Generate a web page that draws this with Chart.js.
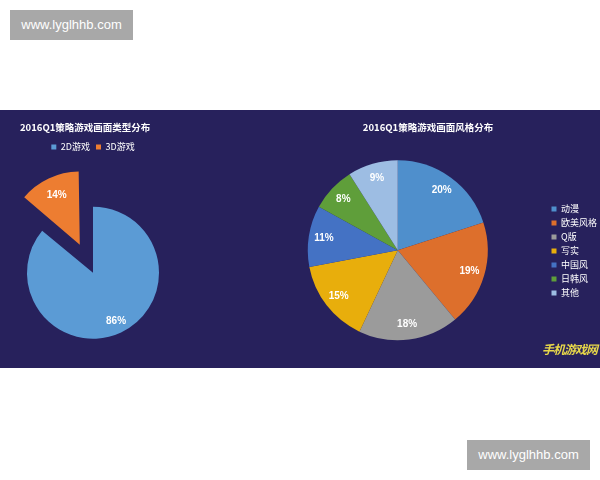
<!DOCTYPE html>
<html>
<head>
<meta charset="utf-8">
<script src="https://cdn.jsdelivr.net/npm/chart.js@4"></script>
<style>
  html, body { margin: 0; padding: 0; width: 600px; height: 480px; overflow: hidden; background: #ffffff; font-family: "Noto Sans CJK SC", "Noto Sans", sans-serif; }
  #band { position: absolute; left: 0; top: 110px; width: 600px; height: 258px; background: #27215c; }
  .wm { position: absolute; width: 123px; height: 30px; background: #a8a8a8; color: #ffffff; font: 13px "Liberation Sans", Arial, sans-serif; line-height: 30px; text-align: center; }
  #wm1 { left: 10px; top: 10px; }
  #wm2 { left: 467px; top: 440px; }
  #c1wrap { position: absolute; left: 0; top: 110px; width: 186px; height: 274px; }
  #c2wrap { position: absolute; left: 240px; top: 110px; width: 370px; height: 258px; }
  #logo { position: absolute; left: 542px; top: 340px; color: #e8d84a; font: italic bold 12px "Noto Sans CJK SC", sans-serif; letter-spacing: -1px; }
</style>
</head>
<body>
<div id="band"></div>
<div class="wm" id="wm1">www.lyglhhb.com</div>
<div class="wm" id="wm2">www.lyglhhb.com</div>
<div id="c1wrap"><canvas id="c1" width="186" height="274"></canvas></div>
<div id="c2wrap"><canvas id="c2" width="370" height="258"></canvas></div>
<div id="logo">手机游戏网</div>
<script>
// ---- data ----
const typeTitle = '2016Q1策略游戏画面类型分布';
const typeLabels = ['2D游戏', '3D游戏'];
const typeValues = [86, 14];
const typeColors = ['#5b9bd5', '#ed7d31'];

const styleTitle = '2016Q1策略游戏画面风格分布';
const styleLabels = ['动漫', '欧美风格', 'Q版', '写实', '中国风', '日韩风', '其他'];
const styleValues = [20, 19, 18, 15, 11, 8, 9];
const styleColors = ['#4f8fcc', '#dd6f2c', '#9b9b9b', '#e8ae0c', '#4472c4', '#5f9e3a', '#9dbde3'];

// ---- percentage labels drawn from arc geometry ----
const pctLabels = {
  id: 'pctLabels',
  afterDatasetsDraw(chart, args, opts) {
    const ctx = chart.ctx;
    const meta = chart.getDatasetMeta(0);
    const ds = chart.data.datasets[0];
    const total = ds.data.reduce((a, b) => a + b, 0);
    ctx.save();
    ctx.font = 'bold ' + (opts.size || 10) + 'px "Liberation Sans", Arial, sans-serif';
    ctx.fillStyle = opts.color || '#ffffff';
    ctx.textAlign = 'center';
    ctx.textBaseline = 'middle';
    meta.data.forEach((arc, i) => {
      const a = (arc.startAngle + arc.endAngle) / 2;
      const off = (arc.options.offset || 0) / 4;
      const r = arc.outerRadius * (opts.ratio || 0.8) + off;
      const x = arc.x + Math.cos(a) * r;
      const y = arc.y + Math.sin(a) * r;
      ctx.fillText(Math.round(ds.data[i] / total * 100) + '%', x, y);
    });
    ctx.restore();
  }
};

new Chart(document.getElementById('c1'), {
  type: 'pie',
  data: {
    labels: typeLabels,
    datasets: [{
      data: typeValues,
      backgroundColor: typeColors,
      borderWidth: 0,
      offset: [0, 124],
      radius: 66
    }]
  },
  options: {
    responsive: false,
    animation: false,
    events: [],
    layout: { padding: { left: 20, right: 20, top: 0, bottom: 0 } },
    plugins: {
      title: {
        display: true, text: typeTitle, align: 'start', color: '#ffffff',
        font: { size: 9.5, weight: 'bold', family: '"Noto Sans CJK SC", sans-serif' },
        padding: { top: 12, bottom: 3 }
      },
      legend: {
        display: true, position: 'top',
        labels: { color: '#ffffff', boxWidth: 5, boxHeight: 5, padding: 6,
          font: { size: 9, family: '"Noto Sans CJK SC", sans-serif' } }
      },
      tooltip: { enabled: false },
      pctLabels: { ratio: 0.82, size: 10 }
    }
  },
  plugins: [pctLabels]
});

new Chart(document.getElementById('c2'), {
  type: 'pie',
  data: {
    labels: styleLabels,
    datasets: [{
      data: styleValues,
      backgroundColor: styleColors,
      borderWidth: 0,
      radius: 90
    }]
  },
  options: {
    responsive: false,
    animation: false,
    events: [],
    layout: { padding: { left: 9, right: 3, top: 0, bottom: 4 } },
    plugins: {
      title: {
        display: true, text: styleTitle, align: 'center', color: '#ffffff',
        font: { size: 9.5, weight: 'bold', family: '"Noto Sans CJK SC", sans-serif' },
        padding: { top: 12, bottom: 3 }
      },
      legend: {
        display: true, position: 'right',
        title: { display: true, text: ' ', font: { size: 10 }, padding: { top: 8, bottom: 8 } },
        labels: { color: '#ffffff', boxWidth: 5, boxHeight: 5, padding: 5,
          font: { size: 9, family: '"Noto Sans CJK SC", sans-serif' } }
      },
      tooltip: { enabled: false },
      pctLabels: { ratio: 0.83, size: 10 }
    }
  },
  plugins: [pctLabels]
});
</script>
</body>
</html>
